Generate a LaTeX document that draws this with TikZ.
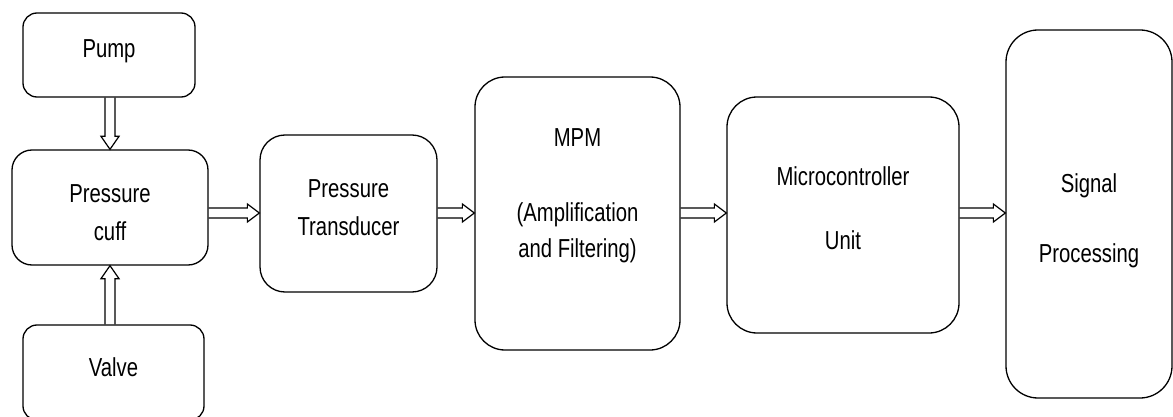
\documentclass[tikz,border=0pt]{standalone}
\usepackage{fontspec}
\setmainfont{Liberation Sans}[FakeStretch=0.78]
\usetikzlibrary{calc}
\tikzset{
  box/.style={draw, line width=1.3pt, inner sep=0pt},
  txt/.style={inner sep=0pt, align=center, font=\fontsize{26}{38}\selectfont},
  blockarrow/.style={draw, line width=1.2pt, line join=miter}
}
\newcommand\harr[2]{%
  \draw[blockarrow] let \p1=(#1.east), \p2=(#2.west), \p3=(row) in
    (\x1,\y3+5pt) -- (\x2-12pt,\y3+5pt) -- (\x2-12pt,\y3+9pt) -- (\x2,\y3)
    -- (\x2-12pt,\y3-9pt) -- (\x2-12pt,\y3-5pt) -- (\x1,\y3-5pt);}
\begin{document}
\begin{tikzpicture}[x=1pt,y=-1pt]
\useasboundingbox (0,0) rectangle (1173,417);
\coordinate (row) at (0,213);
\coordinate (col) at (110,0);
\node[box, rounded corners=14pt, minimum width=172pt, minimum height=84pt,
  label={[txt, name=pumpt, yshift=4pt]center:Pump}] (pump) at (109,55) {};
\node[box, rounded corners=20pt, minimum width=196pt, minimum height=115pt,
  label={[txt, name=cufft, yshift=-5pt]center:Pressure\\cuff}] (cuff) at (110,207.5) {};
\node[box, rounded corners=14pt, minimum width=181pt, minimum height=95pt,
  label={[txt, name=valvet, yshift=5pt]center:Valve}] (valve) at (113.5,372.5) {};
\node[box, rounded corners=25pt, minimum width=177pt, minimum height=157pt,
  label={[txt, name=transt, yshift=6pt]center:Pressure\\Transducer}] (trans) at (348.5,213.5) {};
\node[box, rounded corners=30pt, minimum width=205pt, minimum height=273pt,
  label={[txt, name=mpmt, yshift=17.5pt]center:MPM\\[37pt](Amplification\\[-2pt]and Filtering)}] (mpm) at (577.5,213.5) {};
\node[box, rounded corners=30pt, minimum width=232pt, minimum height=236pt,
  label={[txt, name=microt, yshift=6.5pt]center:Microcontroller\\[26pt]Unit}] (micro) at (843,215) {};
\node[box, rounded corners=32pt, minimum width=166pt, minimum height=368pt,
  label={[txt, name=signalt, yshift=-7pt]center:Signal\\[32pt]Processing}] (signal) at (1089,214) {};
\harr{cuff}{trans}
\harr{trans}{mpm}
\harr{mpm}{micro}
\harr{micro}{signal}
\draw[blockarrow] let \p1=(pump.south), \p2=(cuff.north), \p3=(col) in
  (\x3+5pt,\y1) -- (\x3+5pt,\y2+13pt) -- (\x3+9pt,\y2+13pt) -- (\x3,\y2)
  -- (\x3-9pt,\y2+13pt) -- (\x3-5pt,\y2+13pt) -- (\x3-5pt,\y1);
\draw[blockarrow] let \p1=(valve.north), \p2=(cuff.south), \p3=(col) in
  (\x3+5pt,\y1) -- (\x3+5pt,\y2-13pt) -- (\x3+9pt,\y2-13pt) -- (\x3,\y2)
  -- (\x3-9pt,\y2-13pt) -- (\x3-5pt,\y2-13pt) -- (\x3-5pt,\y1);
\end{tikzpicture}
\end{document}
